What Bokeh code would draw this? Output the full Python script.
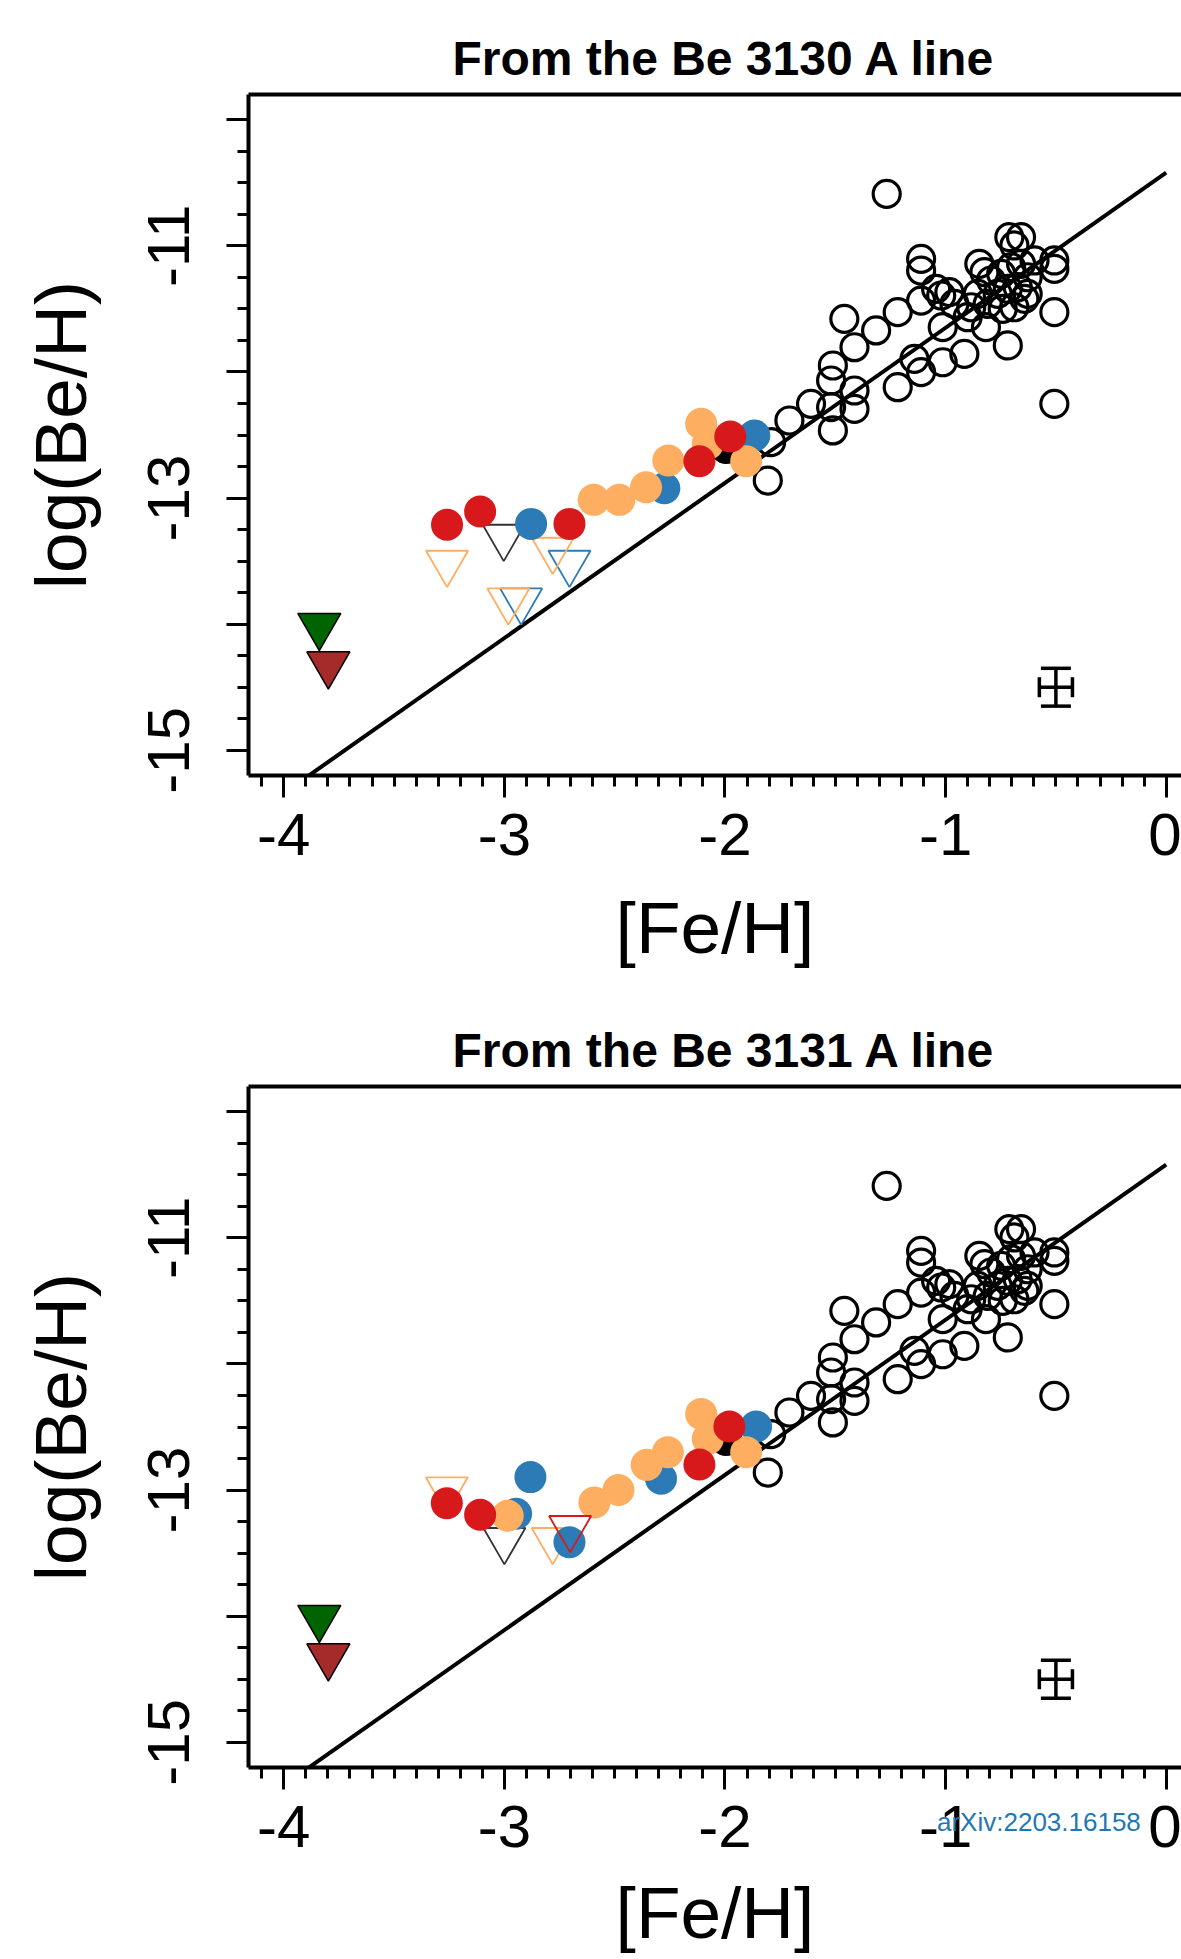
import numpy as np
from bokeh.plotting import figure
from bokeh.layouts import column
from bokeh.models import Range1d, FixedTicker, LinearAxis, Div
from bokeh.embed import file_html
from bokeh.resources import INLINE

# ---------------- data ----------------
# reference stars (black open circles), same in both panels
REF_FEH = [-1.267, -1.111, -1.111, -1.043, -1.020, -0.983, -1.111, -1.217, -1.459, -1.315,
           -1.413, -1.511, -1.519, -1.413, -1.519, -1.413, -1.217, -1.141, -1.111, -1.013,
           -0.915, -1.013, -0.900, -0.817, -0.718, -0.847, -0.824, -0.711, -0.658, -0.688,
           -0.507, -0.507, -0.507, -0.507,
           -0.794, -0.748, -0.703, -0.658, -0.628, -0.764, -0.718, -0.673, -0.643, -0.809,
           -0.741, -0.688, -0.854, -0.884, -0.597, -0.628, -0.960,
           -1.511, -1.610, -1.708, -1.791, -1.806]
REF_BE = [-10.588, -11.103, -11.196, -11.341, -11.394, -11.367, -11.434, -11.526, -11.579, -11.671,
          -11.804, -11.949, -12.068, -12.147, -12.279, -12.293, -12.121, -11.896, -12.002, -11.923,
          -11.857, -11.645, -11.566, -11.645, -11.790, -11.143, -11.209, -10.931, -10.931, -10.997,
          -11.116, -11.182, -11.526, -12.253,
          -11.275, -11.222, -11.169, -11.143, -11.249, -11.381, -11.341, -11.328, -11.420, -11.460,
          -11.500, -11.487, -11.381, -11.487, -11.116, -11.381, -11.460,
          -12.464, -12.253, -12.385, -12.557, -12.861]

# black filled point mostly hidden behind coloured ones
BLK_FEH = [-1.995]
BLK_BE = [-12.60]

# limits for the two most metal-poor stars (filled triangles)
GREEN_FEH = [-3.839]
GREEN_BE = [-14.013]
BROWN_FEH = [-3.798]
BROWN_BE = [-14.318]

# top panel (Be 3130 A)
T_RED_FEH = [-3.260, -3.110, -2.705, -2.116, -1.976]
T_RED_BE = [-13.212, -13.107, -13.205, -12.708, -12.512]
T_BLUE_FEH = [-2.879, -2.275, -1.867]
T_BLUE_BE = [-13.205, -12.922, -12.504]
T_ORANGE_FEH = [-2.595, -2.479, -2.358, -2.257, -2.108, -2.078, -1.904]
T_ORANGE_BE = [-13.014, -13.014, -12.914, -12.702, -12.411, -12.570, -12.708]
T_TRI_ORANGE_FEH = [-3.260, -2.781, -2.982]
T_TRI_ORANGE_BE = [-13.514, -13.411, -13.813]
T_TRI_BLUE_FEH = [-2.705, -2.924]
T_TRI_BLUE_BE = [-13.514, -13.813]
T_TRI_BLACK_FEH = [-3.003]
T_TRI_BLACK_BE = [-13.308]
T_TRI_RED_FEH = []
T_TRI_RED_BE = []

# bottom panel (Be 3131 A)
B_RED_FEH = [-3.261, -3.110, -2.116, -1.980]
B_RED_BE = [-13.104, -13.196, -12.797, -12.496]
B_BLUE_FEH = [-2.882, -2.947, -2.705, -2.290, -1.859]
B_BLUE_BE = [-12.897, -13.188, -13.413, -12.910, -12.496]
B_ORANGE_FEH = [-2.985, -2.592, -2.483, -2.355, -2.259, -2.108, -2.078, -1.904]
B_ORANGE_BE = [-13.204, -13.098, -13.000, -12.800, -12.700, -12.396, -12.594, -12.700]
B_TRI_ORANGE_FEH = [-3.261, -2.781]
B_TRI_ORANGE_BE = [-12.995, -13.397]
B_TRI_BLUE_FEH = []
B_TRI_BLUE_BE = []
B_TRI_BLACK_FEH = [-3.000]
B_TRI_BLACK_BE = [-13.397]
B_TRI_RED_FEH = [-2.702]
B_TRI_RED_BE = [-13.302]

# linear relation drawn in both panels
FIT_SLOPE = 1.23
FIT_INTERCEPT = -10.42
FIT_FEH = [-4.16, 0.0]

# typical error bar
ERR_FEH = -0.5
ERR_BE = -14.5
ERR_DFEH = 0.075
ERR_DBE = 0.15

X_TICKS = [-4, -3, -2, -1, 0]
Y_TICKS = [-15, -14, -13, -12, -11, -10]
Y_TICK_LABELS = {-15: "-15", -14: "", -13: "-13", -12: "", -11: "-11", -10: ""}
X_TICK_LABELS = {-4: "-4", -3: "-3", -2: "-2", -1: "-1", 0: "0"}

TITLES = ["From the Be 3130 A line", "From the Be 3131 A line"]
WATERMARK = "arXiv:2203.16158"

RED = "#D7191C"
BLUE = "#2C7BB6"
ORANGE = "#FDAE61"
GREEN = "#006400"
BROWN = "#A52A2A"
FONT = "Liberation Sans"


def make_panel(title, height, top, bottom, xlabel_standoff, red, blue, orange, tri_orange,
               tri_blue, tri_black, tri_red):
    p = figure(width=1181, height=height, output_backend="svg", toolbar_location=None,
               x_range=Range1d(-4.16, 0.0694), y_range=Range1d(-15.2, -9.8),
               min_border_left=248, min_border_right=0, min_border_top=top,
               min_border_bottom=bottom, title=title)
    p.background_fill_color = "white"
    p.border_fill_color = "white"
    p.outline_line_color = None
    p.xgrid.visible = False
    p.ygrid.visible = False

    p.title.text_font = FONT
    p.title.text_font_size = "48px"
    p.title.text_font_style = "bold"
    p.title.text_color = "black"
    p.title.align = "left"
    p.title.offset = 204
    p.title.standoff = 20

    xa = p.xaxis[0]
    xa.ticker = FixedTicker(ticks=X_TICKS,
                            minor_ticks=list(np.round(np.arange(-4.1, 0.001, 0.1), 2)))
    xa.major_label_overrides = X_TICK_LABELS
    xa.axis_label = "[Fe/H]"
    ya = p.yaxis[0]
    ya.ticker = FixedTicker(ticks=Y_TICKS,
                            minor_ticks=list(np.round(np.arange(-15.0, -9.99, 0.25), 2)))
    ya.major_label_overrides = Y_TICK_LABELS
    ya.axis_label = "log(Be/H)"
    ya.major_label_orientation = "vertical"
    for ax in (xa, ya):
        ax.axis_line_width = 4
        ax.axis_line_color = "black"
        ax.major_tick_in = 0
        ax.minor_tick_in = 0
        ax.major_tick_out = 22
        ax.minor_tick_out = 11
        ax.major_tick_line_width = 3
        ax.minor_tick_line_width = 3
        ax.major_label_text_font = FONT
        ax.major_label_text_font_size = "60px"
        ax.major_label_text_color = "black"
        ax.axis_label_text_font = FONT
        ax.axis_label_text_font_size = "73px"
        ax.axis_label_text_font_style = "normal"
        ax.axis_label_text_color = "black"
    xa.major_label_standoff = 16
    xa.axis_label_standoff = xlabel_standoff
    ya.major_label_standoff = 37
    ya.axis_label_standoff = 45

    top_ax = LinearAxis(ticker=FixedTicker(ticks=[]), major_label_text_font_size="0px",
                        major_tick_line_color=None, minor_tick_line_color=None,
                        axis_line_width=4, axis_line_color="black")
    p.add_layout(top_ax, "above")

    # linear relation
    fx = np.array(FIT_FEH)
    p.line(fx, FIT_INTERCEPT + FIT_SLOPE * fx, line_color="black", line_width=4)

    # reference stars
    p.scatter(REF_FEH, REF_BE, marker="circle", size=27, fill_color=None,
              line_color="black", line_width=3.2)
    p.scatter(BLK_FEH, BLK_BE, marker="circle", size=32, fill_color="black",
              line_color="black")

    # upper limits (open triangles)
    p.scatter(tri_black[0], tri_black[1], marker="inverted_triangle", size=42,
              fill_color=None, line_color="#333333", line_width=1.8)
    p.scatter(tri_blue[0], tri_blue[1], marker="inverted_triangle", size=42,
              fill_color=None, line_color=BLUE, line_width=1.8)
    p.scatter(tri_orange[0], tri_orange[1], marker="inverted_triangle", size=42,
              fill_color=None, line_color=ORANGE, line_width=1.8)

    # detections
    p.scatter(blue[0], blue[1], marker="circle", size=32, fill_color=BLUE, line_color=None)
    p.scatter(orange[0], orange[1], marker="circle", size=32, fill_color=ORANGE, line_color=None)
    p.scatter(red[0], red[1], marker="circle", size=32, fill_color=RED, line_color=None)
    p.scatter(tri_red[0], tri_red[1], marker="inverted_triangle", size=42,
              fill_color=None, line_color=RED, line_width=1.8)

    # most metal-poor limits
    p.scatter(GREEN_FEH, GREEN_BE, marker="inverted_triangle", size=43, fill_color=GREEN,
              line_color="black", line_width=1.5)
    p.scatter(BROWN_FEH, BROWN_BE, marker="inverted_triangle", size=43, fill_color=BROWN,
              line_color="black", line_width=1.5)

    # typical error bar
    p.segment([ERR_FEH - ERR_DFEH], [ERR_BE], [ERR_FEH + ERR_DFEH], [ERR_BE],
              line_color="black", line_width=3.5)
    p.segment([ERR_FEH], [ERR_BE - ERR_DBE], [ERR_FEH], [ERR_BE + ERR_DBE],
              line_color="black", line_width=3.5)
    p.scatter([ERR_FEH, ERR_FEH], [ERR_BE - ERR_DBE, ERR_BE + ERR_DBE], marker="dash",
              size=30, line_color="black", line_width=3.5)
    p.scatter([ERR_FEH - ERR_DFEH, ERR_FEH + ERR_DFEH], [ERR_BE, ERR_BE], marker="dash",
              angle=np.pi / 2, size=20, line_color="black", line_width=3.5)
    return p


p1 = make_panel(TITLES[0], 990, 94, 215, 29,
                (T_RED_FEH, T_RED_BE), (T_BLUE_FEH, T_BLUE_BE), (T_ORANGE_FEH, T_ORANGE_BE),
                (T_TRI_ORANGE_FEH, T_TRI_ORANGE_BE), (T_TRI_BLUE_FEH, T_TRI_BLUE_BE),
                (T_TRI_BLACK_FEH, T_TRI_BLACK_BE), (T_TRI_RED_FEH, T_TRI_RED_BE))
p2 = make_panel(TITLES[1], 969, 96, 192, 22,
                (B_RED_FEH, B_RED_BE), (B_BLUE_FEH, B_BLUE_BE), (B_ORANGE_FEH, B_ORANGE_BE),
                (B_TRI_ORANGE_FEH, B_TRI_ORANGE_BE), (B_TRI_BLUE_FEH, B_TRI_BLUE_BE),
                (B_TRI_BLACK_FEH, B_TRI_BLACK_BE), (B_TRI_RED_FEH, B_TRI_RED_BE))

wm = Div(text=WATERMARK, width=230, height=30, margin=(-152, 0, 0, 937),
         styles={"font-family": FONT, "font-size": "26px", "color": "#1F78B4",
                 "white-space": "nowrap", "line-height": "30px"})

layout = column(p1, p2, wm)
open("out.html", "w").write(file_html(layout, INLINE))
